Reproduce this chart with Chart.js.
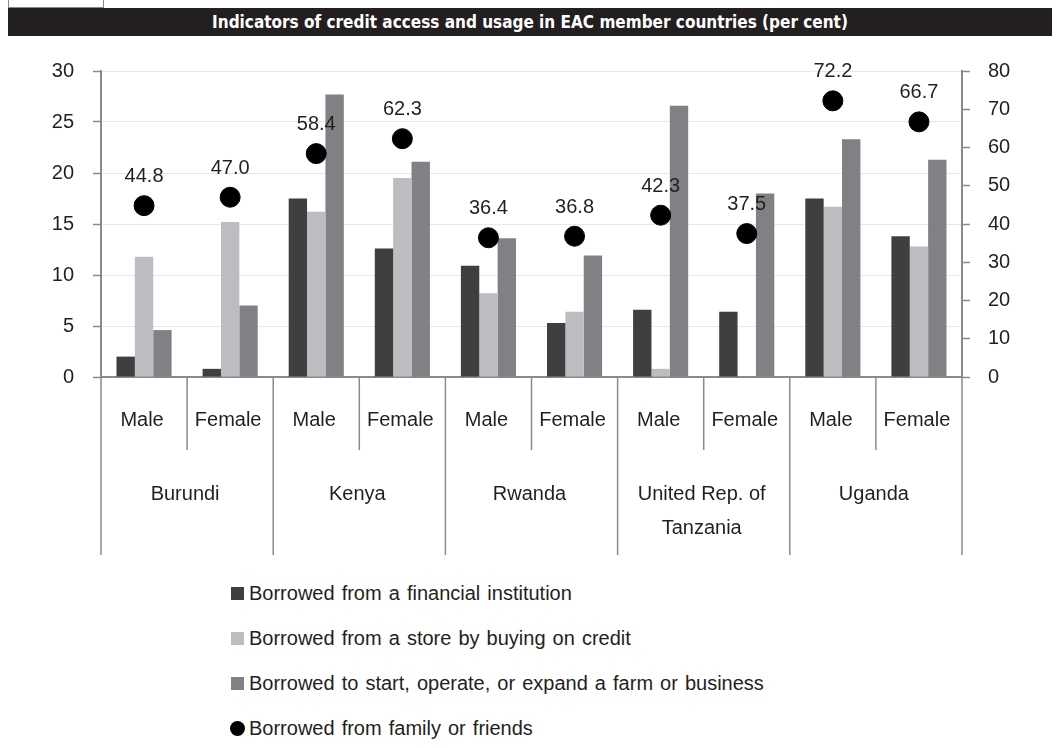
<!DOCTYPE html>
<html>
<head>
<meta charset="utf-8">
<script src="https://cdn.jsdelivr.net/npm/chart.js@4/dist/chart.umd.min.js"></script>
<style>
  body { margin: 0; background: #fff; width: 1060px; height: 748px; position: relative; overflow: hidden; font-family: "Liberation Sans", Arial, sans-serif; color: #231f20; }
  #tab { position: absolute; left: 8px; top: -2px; width: 96px; height: 10px; border: 1px solid #888; border-top: none; box-sizing: border-box; }
  #titre { position: absolute; left: 8px; top: 8px; width: 1044px; height: 28px; background: #231f20; color: #fff;
    font: bold 17px "DejaVu Sans Condensed", "DejaVu Sans", sans-serif; text-align: center; line-height: 28px; }
  #boite { position: absolute; left: 0; top: 40px; width: 1060px; height: 520px; }
  #legende { position: absolute; left: 230px; top: 580px; font-size: 20px; word-spacing: 1.5px; }
  .item { height: 45px; display: flex; align-items: flex-start; line-height: 26px; }
  .marque { display: inline-block; width: 13px; height: 13px; margin: 7px 5px 0 1px; }
  .rond { width: 15px; height: 15px; border-radius: 50%; margin: 6px 4px 0 0; }
</style>
</head>
<body>
<div id="tab"></div>
<div id="titre">Indicators of credit access and usage in EAC member countries (per cent)</div>
<div id="boite"><canvas id="creditChart"></canvas></div>
<div id="legende"></div>
<script>
'use strict';
// donnees
const pays = ['Burundi', 'Kenya', 'Rwanda', ['United Rep. of', 'Tanzania'], 'Uganda'];
const sexes = ['Male', 'Female'];
const etiquettes = pays.flatMap(() => sexes);

const institution = [2.0, 0.8, 17.5, 12.6, 10.9, 5.3, 6.6, 6.4, 17.5, 13.8];
const magasin     = [11.8, 15.2, 16.2, 19.5, 8.2, 6.4, 0.8, 0.0, 16.7, 12.8];
const ferme       = [4.6, 7.0, 27.7, 21.1, 13.6, 11.9, 26.6, 18.0, 23.3, 21.3];
const famille     = [44.8, 47.0, 58.4, 62.3, 36.4, 36.8, 42.3, 37.5, 72.2, 66.7];

const ticksGauche = [0, 5, 10, 15, 20, 25, 30];
const ticksDroite = [0, 10, 20, 30, 40, 50, 60, 70, 80];

const series = [
  { label: 'Borrowed from a financial institution', data: institution, couleur: '#3f3f3f' },
  { label: 'Borrowed from a store by buying on credit', data: magasin, couleur: '#bcbdc1' },
  { label: 'Borrowed to start, operate, or expand a farm or business', data: ferme, couleur: '#808184' }
];
const serieFamille = { label: 'Borrowed from family or friends', data: famille, couleur: '#000000' };

const police = { family: '"Liberation Sans", Arial, sans-serif', size: 20 };
const gris = '#8a8a8a';

//trait de separation sous l'axe des x
const separateurs = {
  id: 'separateurs',
  afterDraw(chart) {
    const x = chart.scales.x;
    const ctx = chart.ctx;
    const haut = chart.chartArea.bottom;
    ctx.save();
    ctx.strokeStyle = gris;
    ctx.lineWidth = 1.5;
    for (let i = 0; i <= etiquettes.length; i++) {
      const px = i === 0 ? x.left : (i === etiquettes.length ? x.right : (x.getPixelForValue(i - 1) + x.getPixelForValue(i)) / 2);
      const bas = i % 2 === 0 ? chart.scales.x2.bottom : x.bottom;
      ctx.beginPath();
      ctx.moveTo(px, haut);
      ctx.lineTo(px, bas);
      ctx.stroke();
    }
    ctx.restore();
  }
};

// valeurs au dessus des points
const valeursPoints = {
  id: 'valeursPoints',
  afterDatasetsDraw(chart) {
    const meta = chart.getDatasetMeta(3);
    const ctx = chart.ctx;
    ctx.save();
    ctx.font = police.size + 'px ' + police.family;
    ctx.fillStyle = '#231f20';
    ctx.textAlign = 'center';
    ctx.textBaseline = 'middle';
    meta.data.forEach((pt, i) => {
      ctx.fillText(famille[i].toFixed(1), pt.x, pt.y - 29);
    });
    ctx.restore();
  }
};

const datasets = series.map(s => ({
  type: 'bar',
  label: s.label,
  data: s.data,
  backgroundColor: s.couleur,
  borderWidth: 0,
  yAxisID: 'y',
  order: 1,
  categoryPercentage: 0.64,
  barPercentage: 1.0
}));
datasets.push({
  type: 'line',
  label: serieFamille.label,
  data: serieFamille.data,
  showLine: false,
  pointRadius: 10,
  pointBackgroundColor: serieFamille.couleur,
  pointBorderColor: serieFamille.couleur,
  yAxisID: 'y1',
  order: 0
});

const ctx = document.getElementById('creditChart').getContext('2d');
let creditChart = new Chart(ctx, {
  data: { labels: etiquettes, datasets: datasets },
  options: {
    responsive: true,
    maintainAspectRatio: false,
    animation: false,
    layout: { padding: { top: 27, bottom: 5, left: 0, right: 0 } },
    plugins: { legend: { display: false }, tooltip: { enabled: false } },
    scales: {
      x: {
        type: 'category',
        labels: etiquettes,
        offset: true,
        weight: 0,
        grid: { display: false, drawTicks: false },
        border: { display: true, color: gris, width: 2 },
        ticks: { font: police, color: '#231f20', padding: 31, labelOffset: -2, maxRotation: 0, autoSkip: false },
        afterFit: s => { s.height = 73; }
      },
      x2: {
        type: 'category',
        labels: pays,
        offset: true,
        position: 'bottom',
        weight: 1,
        grid: { display: false, drawTicks: false },
        border: { display: false },
        ticks: { font: { ...police, lineHeight: 34 / 20 }, color: '#231f20', padding: 27, labelOffset: -2, maxRotation: 0, autoSkip: false },
        afterFit: s => { s.height = 105; }
      },
      y: {
        position: 'left',
        min: 0, max: 30,
        afterBuildTicks: s => { s.ticks = ticksGauche.map(v => ({ value: v })); },
        grid: { color: '#e8e8e8', lineWidth: 1, tickLength: 8, tickColor: gris, tickWidth: 1.5 },
        border: { display: true, color: gris, width: 2 },
        ticks: { font: police, color: '#231f20', padding: 19 },
        afterFit: s => { s.width = 101; }
      },
      y1: {
        position: 'right',
        min: 0, max: 80,
        afterBuildTicks: s => { s.ticks = ticksDroite.map(v => ({ value: v })); },
        grid: { drawOnChartArea: false, tickLength: 8, tickColor: gris, tickWidth: 1.5 },
        border: { display: true, color: gris, width: 2 },
        ticks: { font: police, color: '#231f20', padding: 18 },
        afterFit: s => { s.width = 98; }
      }
    }
  },
  plugins: [separateurs, valeursPoints]
});

// legende en colonne, faite a la main
const legende = document.getElementById('legende');
series.concat([serieFamille]).forEach((s, i) => {
  const ligne = document.createElement('div');
  ligne.className = 'item';
  const m = document.createElement('span');
  m.className = i === 3 ? 'marque rond' : 'marque';
  m.style.background = s.couleur;
  const t = document.createElement('span');
  t.textContent = s.label;
  ligne.appendChild(m);
  ligne.appendChild(t);
  legende.appendChild(ligne);
});
</script>
</body>
</html>
